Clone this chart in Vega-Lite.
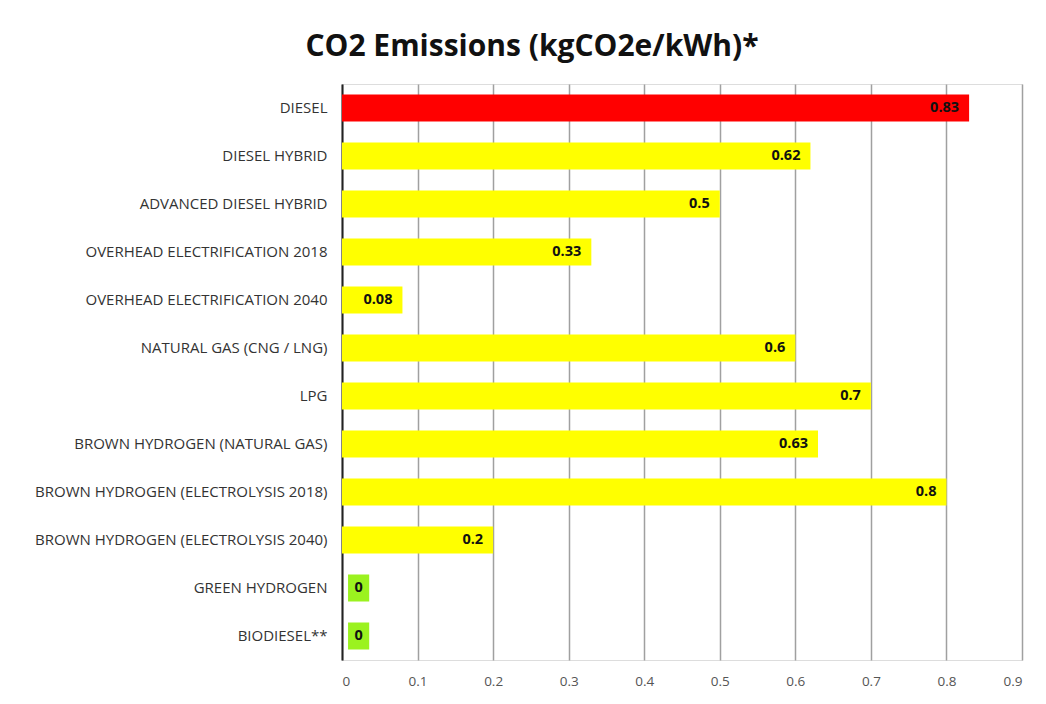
{
  "$schema": "https://vega.github.io/schema/vega-lite/v6.json",
  "width": 680,
  "height": 576,
  "autosize": {"type": "none"},
  "padding": {"left": 342, "top": 84, "right": 24, "bottom": 44},
  "background": "white",
  "title": {
    "text": "CO2 Emissions (kgCO2e/kWh)*",
    "font": "Open Sans",
    "fontSize": 30,
    "fontWeight": "bold",
    "color": "#111111",
    "anchor": "middle",
    "dx": -150,
    "offset": 22
  },
  "data": {
    "values": [
      {"fuel": "DIESEL", "value": 0.83, "group": "diesel"},
      {"fuel": "DIESEL HYBRID", "value": 0.62, "group": "other"},
      {"fuel": "ADVANCED DIESEL HYBRID", "value": 0.5, "group": "other"},
      {"fuel": "OVERHEAD ELECTRIFICATION 2018", "value": 0.33, "group": "other"},
      {"fuel": "OVERHEAD ELECTRIFICATION 2040", "value": 0.08, "group": "other"},
      {"fuel": "NATURAL GAS (CNG / LNG)", "value": 0.6, "group": "other"},
      {"fuel": "LPG", "value": 0.7, "group": "other"},
      {"fuel": "BROWN HYDROGEN (NATURAL GAS)", "value": 0.63, "group": "other"},
      {"fuel": "BROWN HYDROGEN (ELECTROLYSIS 2018)", "value": 0.8, "group": "other"},
      {"fuel": "BROWN HYDROGEN (ELECTROLYSIS 2040)", "value": 0.2, "group": "other"},
      {"fuel": "GREEN HYDROGEN", "value": 0, "group": "zero"},
      {"fuel": "BIODIESEL**", "value": 0, "group": "zero"}
    ]
  },
  "encoding": {
    "y": {
      "field": "fuel",
      "type": "nominal",
      "sort": null,
      "scale": {"paddingInner": 0.44, "paddingOuter": 0.22},
      "axis": {
        "title": null,
        "labelFont": "Open Sans",
        "labelFontSize": 15,
        "labelColor": "#333333",
        "labelPadding": 15,
        "labelLimit": 400,
        "ticks": false,
        "domainColor": "#222222",
        "domainWidth": 2,
        "grid": false
      }
    }
  },
  "layer": [
    {
      "transform": [{"filter": "datum.value > 0"}],
      "mark": {"type": "bar"},
      "encoding": {
        "x": {
          "field": "value",
          "type": "quantitative",
          "scale": {"domain": [0, 0.9], "nice": false},
          "axis": {
            "title": null,
            "values": [0, 0.1, 0.2, 0.3, 0.4, 0.5, 0.6, 0.7, 0.8, 0.9],
            "format": "~g",
            "grid": true,
            "gridColor": "#a0a0a0",
            "gridWidth": 1.5,
            "domain": false,
            "ticks": false,
            "labelPadding": 14,
            "labelFont": "Open Sans",
            "labelFontSize": 13.5,
            "labelColor": "#555555"
          }
        },
        "color": {
          "field": "group",
          "type": "nominal",
          "scale": {"domain": ["diesel", "other"], "range": ["#FF0000", "#FFFF00"]},
          "legend": null
        }
      }
    },
    {
      "transform": [{"filter": "datum.value == 0"}],
      "mark": {"type": "bar", "color": "#9BF21F"},
      "encoding": {
        "x": {"datum": 0.008, "type": "quantitative"},
        "x2": {"datum": 0.036}
      }
    },
    {
      "transform": [{"filter": "datum.value > 0"}],
      "mark": {"type": "text", "align": "right", "dx": -10, "font": "Open Sans", "fontSize": 14.5, "fontWeight": "bold", "color": "#111111"},
      "encoding": {
        "x": {"field": "value", "type": "quantitative"},
        "text": {"field": "value", "type": "quantitative", "format": "~g"}
      }
    },
    {
      "transform": [{"filter": "datum.value == 0"}],
      "mark": {"type": "text", "align": "center", "font": "Open Sans", "fontSize": 14.5, "fontWeight": "bold", "color": "#111111"},
      "encoding": {
        "x": {"datum": 0.022, "type": "quantitative"},
        "text": {"field": "value", "type": "quantitative", "format": "~g"}
      }
    }
  ]
}
